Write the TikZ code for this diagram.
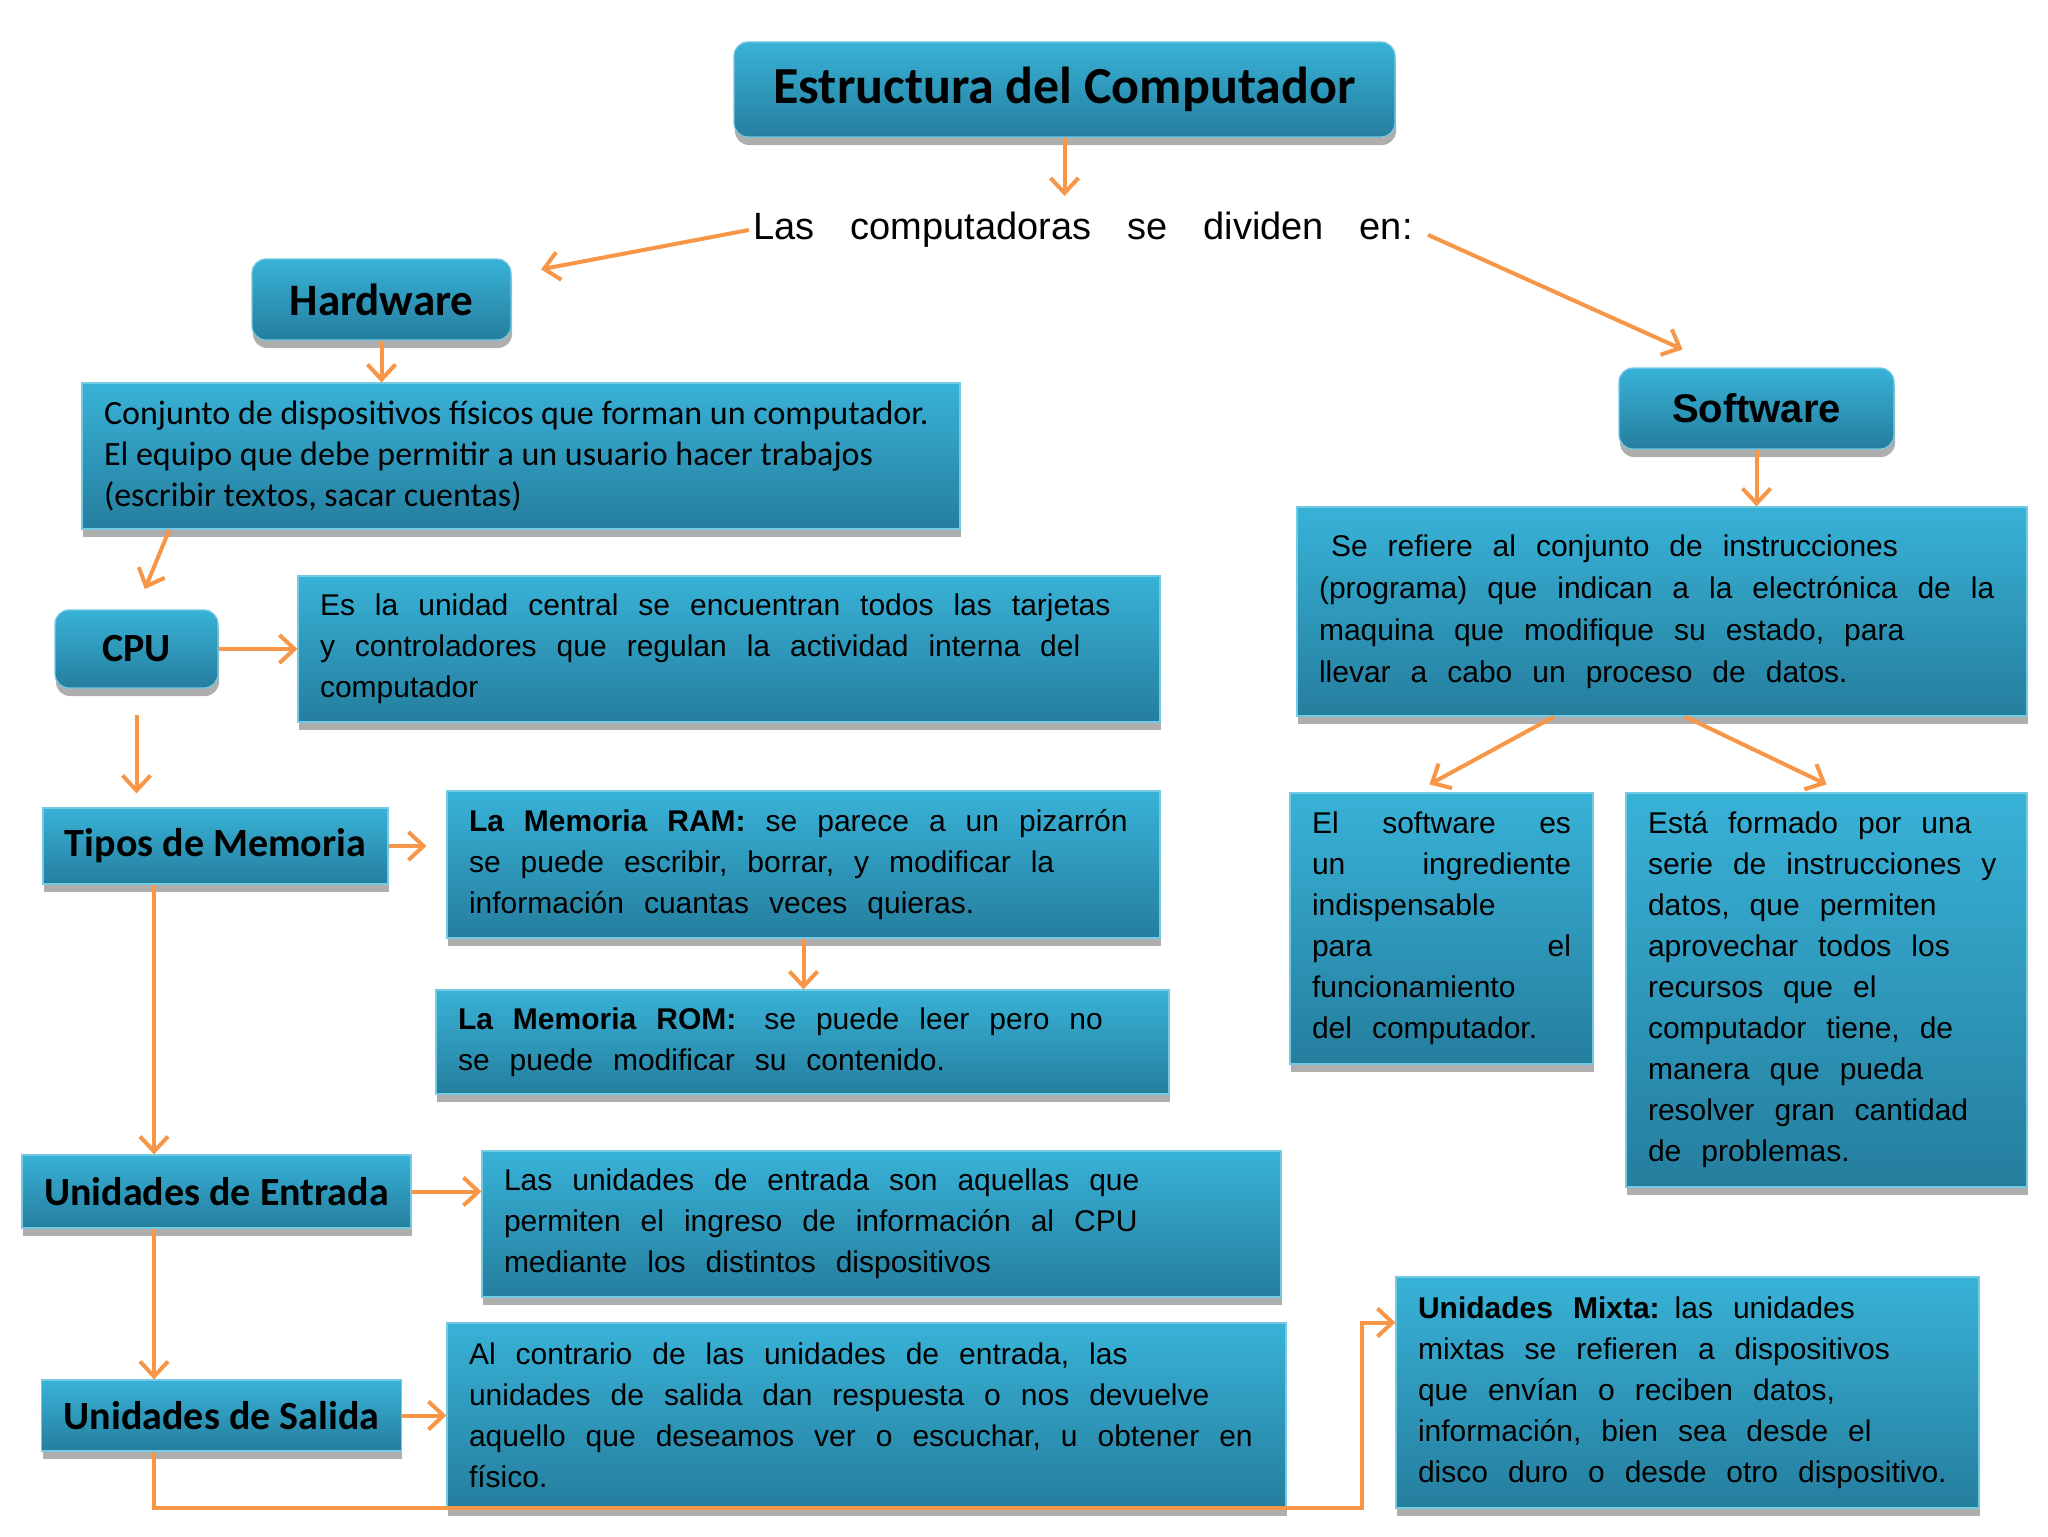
\documentclass[tikz,border=0pt]{standalone}
\usepackage{fontspec}
\setmainfont{Liberation Sans}
\newfontfamily\calibri{Carlito}
\usetikzlibrary{arrows.meta,shadows}
\definecolor{BoxTop}{RGB}{56,178,215}
\definecolor{BoxBot}{RGB}{37,126,158}
\definecolor{ArrowClr}{RGB}{247,150,70}

\begin{document}
\begin{tikzpicture}[x=0.5pt,y=-0.5pt,
  caja/.style={top color=BoxTop,bottom color=BoxBot,draw=BoxTop!70!white,line width=0.6pt,
    drop shadow={shadow xshift=0.5pt,shadow yshift=-4pt,opacity=0.45,fill=black!70},
    inner xsep=11pt,inner ysep=3pt},
  redondo/.style={rounded corners=7pt},
  etiqueta/.style={caja,font=\calibri\bfseries\fontsize{20}{24}\selectfont},
  texto/.style={caja,align=left,font=\fontsize{15}{20.5}\selectfont,
    execute at begin node={\spaceskip=10pt plus 2pt minus 1pt\relax}},
  flecha/.style={draw=ArrowClr,line width=2pt,-{Straight Barb[length=7.5pt,width=14pt]}}]

\useasboundingbox[fill=white] (0,0) rectangle (2048,1536);
\coordinate (eje) at (154,0);
\coordinate (codo) at (1362,1508);

\node[etiqueta,redondo,font=\calibri\bfseries\fontsize{26}{30}\selectfont,minimum width=330.5pt,minimum height=47.5pt] (titulo) at (1064.5,89.5) {Estructura del Computador};
\node[inner sep=2pt,font=\fontsize{19}{23}\selectfont,execute at begin node={\spaceskip=18pt\relax}] (divide) at (1083,230) {Las computadoras se dividen en:};

\node[etiqueta,redondo,font=\calibri\bfseries\fontsize{22.5}{26}\selectfont,minimum width=129.5pt,minimum height=40.5pt] (hw) at (381.5,299.5) {Hardware};
\node[etiqueta,redondo,font=\bfseries\fontsize{20}{24}\selectfont,minimum width=137.5pt,minimum height=40.5pt] (sw) at (1756.5,408.5) {Software};

\node[texto,font=\calibri\fontsize{17}{20.5}\selectfont,execute at begin node={\spaceskip=0pt\relax},text width=417pt,minimum height=73pt] (hwdesc) at (521,456) {Conjunto de dispositivos físicos que forman un computador.\\El equipo que debe permitir a un usuario hacer trabajos\\(escribir textos, sacar cuentas)};

\node[etiqueta,redondo,minimum width=81.5pt,minimum height=39pt] (cpu) at (136.5,649) {CPU};
\node[texto,text width=409pt,minimum height=73pt] (cpudesc) at (729,649) {Es la unidad central se encuentran todos las tarjetas\\y controladores que regulan la actividad interna del\\computador};

\node[etiqueta,minimum width=172.5pt,minimum height=38pt] (mem) at (215.5,846) {Tipos de Memoria};
\node[texto,text width=334.5pt,minimum height=73.5pt] (ram) at (803.5,864.5) {\textbf{La Memoria RAM:} se parece a un pizarrón\\se puede escribir, borrar, y modificar la\\información cuantas veces quieras.};
\node[texto,text width=344.5pt,minimum height=52pt] (rom) at (802.5,1042) {\textbf{La Memoria ROM:}\hspace{4pt} se puede leer pero no\\se puede modificar su contenido.};

\node[etiqueta,minimum width=194.5pt,minimum height=36.5pt] (ent) at (216.5,1191.5) {Unidades de Entrada};
\node[texto,text width=377.5pt,minimum height=73pt] (entdesc) at (881.5,1224) {Las unidades de entrada son aquellas que\\permiten el ingreso de información al CPU\\mediante los distintos dispositivos};

\node[etiqueta,minimum width=179.5pt,minimum height=35.5pt] (sal) at (221.5,1415.5) {Unidades de Salida};
\node[texto,text width=397.5pt,minimum height=92.5pt] (saldesc) at (866.5,1415.5) {Al contrario de las unidades de entrada, las\\unidades de salida dan respuesta o nos devuelve\\aquello que deseamos ver o escuchar, u obtener en\\físico.};

\node[texto,text width=269.5pt,minimum height=115.5pt] (mix) at (1687.5,1392.5) {\textbf{Unidades Mixta:} las unidades\\mixtas se refieren a dispositivos\\que envían o reciben datos,\\información, bien sea desde el\\disco duro o desde otro dispositivo.};

\node[texto,font=\fontsize{15}{21}\selectfont,text width=343pt,minimum height=104.5pt] (swdesc) at (1662,611.5) {\hspace*{6pt}Se refiere al conjunto de instrucciones\\(programa) que indican a la electrónica de la\\maquina que modifique su estado, para\\llevar a cabo un proceso de datos.};
\node[texto,text width=129.5pt,minimum height=135.5pt] (swa) at (1441.5,928.5) {El\hfill software\hfill es\\un\hfill ingrediente\\indispensable\\para\hfill el\\funcionamiento\\del computador.};
\node[texto,text width=178.5pt,minimum height=197pt] (swb) at (1826.5,990) {Está formado por una\\serie de instrucciones y\\datos, que permiten\\aprovechar todos los\\recursos que el\\computador tiene, de\\manera que pueda\\resolver gran cantidad\\de problemas.};

\draw[flecha,shorten >=6pt] (titulo.south) -- (titulo.south |- divide.north);
\draw[flecha,shorten >=15pt] (divide.west) -- (hw);
\draw[flecha,shorten <=6pt] (divide.east) -- ([xshift=-37pt,yshift=9pt]sw.north);
\draw[flecha] (hw.south) -- (hw.south |- hwdesc.north);
\draw[flecha,shorten >=11pt] ([xshift=44pt]hwdesc.south west) -- (cpu.north);
\draw[flecha] (cpu.east) -- (cpudesc.west);
\draw[flecha,shorten <=13pt,shorten >=7pt] (cpu.south) -- (cpu.south |- mem.north);
\draw[flecha,shorten >=10pt] (mem.east) -- (mem.east -| ram.west);
\draw[flecha] (ram.south) -- (ram.south |- rom.north);
\draw[flecha] (eje |- mem.south) -- (eje |- ent.north);
\draw[flecha] (ent.east) -- (ent.east -| entdesc.west);
\draw[flecha] (eje |- ent.south) -- (eje |- sal.north);
\draw[flecha] (sal.east) -- (sal.east -| saldesc.west);
\draw[flecha] (eje |- sal.south) |- (codo) |- ([yshift=35pt]mix.west);
\draw[flecha] (sw.south) -- (sw.south |- swdesc.north);
\draw[flecha] ([xshift=-54pt]swdesc.south) -- ([xshift=-6pt,yshift=4pt]swa.north);
\draw[flecha] ([xshift=11.5pt]swdesc.south) -- ([yshift=4pt]swb.north);

\end{tikzpicture}
\end{document}
